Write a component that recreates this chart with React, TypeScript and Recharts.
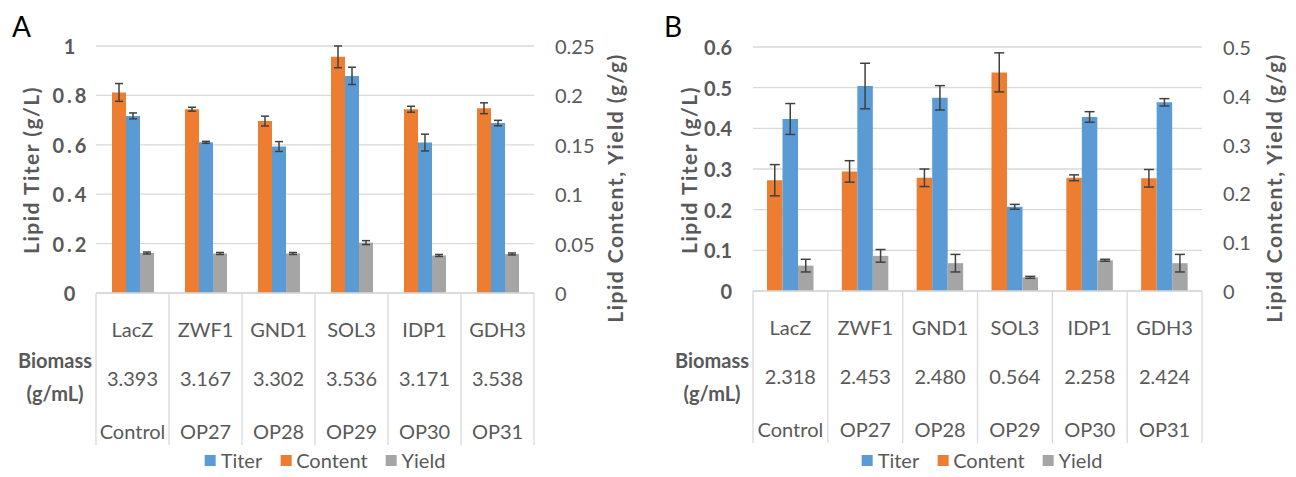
import React from 'react';
import { BarChart, Bar, XAxis, YAxis, CartesianGrid, ErrorBar, Legend } from 'recharts';

const GENES = ['LacZ', 'ZWF1', 'GND1', 'SOL3', 'IDP1', 'GDH3'];
const STRAINS = ['Control', 'OP27', 'OP28', 'OP29', 'OP30', 'OP31'];

// panel A
const BIOMASS_A = ['3.393', '3.167', '3.302', '3.536', '3.171', '3.538'];
const TITER_A = [0.717, 0.61, 0.593, 0.879, 0.609, 0.688];
const TITER_ERR_A = [0.012, 0.004, 0.02, 0.035, 0.034, 0.011];
const CONTENT_A = [0.203, 0.186, 0.174, 0.239, 0.186, 0.187];
const CONTENT_ERR_A = [0.009, 0.002, 0.005, 0.011, 0.003, 0.0055];
const YIELD_A = [0.0405, 0.04, 0.04, 0.051, 0.038, 0.0395];
const YIELD_ERR_A = [0.001, 0.001, 0.001, 0.002, 0.001, 0.001];
const LEFT_TICKS_A = [0, 0.2, 0.4, 0.6, 0.8, 1];
const RIGHT_TICKS_A = [0, 0.05, 0.1, 0.15, 0.2, 0.25];

// panel B
const BIOMASS_B = ['2.318', '2.453', '2.480', '0.564', '2.258', '2.424'];
const TITER_B = [0.423, 0.504, 0.475, 0.207, 0.428, 0.464];
const TITER_ERR_B = [0.038, 0.056, 0.03, 0.006, 0.013, 0.009];
const CONTENT_B = [0.227, 0.245, 0.232, 0.448, 0.232, 0.231];
const CONTENT_ERR_B = [0.032, 0.022, 0.018, 0.04, 0.006, 0.018];
const YIELD_B = [0.052, 0.072, 0.057, 0.028, 0.063, 0.057];
const YIELD_ERR_B = [0.013, 0.013, 0.018, 0.002, 0.002, 0.018];
const LEFT_TICKS_B = [0, 0.1, 0.2, 0.3, 0.4, 0.5, 0.6];
const RIGHT_TICKS_B = [0, 0.1, 0.2, 0.3, 0.4, 0.5];

const LEGEND_ORDER = ['Titer', 'Content', 'Yield'];

const BLUE = '#5b9bd5';
const ORANGE = '#ed7d31';
const GRAY = '#a5a5a5';
const TEXT = '#595959';
const GRID = '#d9d9d9';
const ERR = '#404040';
const FONT = 'Lato, sans-serif';
const H = 477;

const buildRows = (
  titer: number[], titerErr: number[],
  content: number[], contentErr: number[],
  yld: number[], yldErr: number[],
) => GENES.map((gene, i) => ({
  gene,
  titer: titer[i], titerErr: titerErr[i],
  content: content[i], contentErr: contentErr[i],
  yield: yld[i], yieldErr: yldErr[i],
}));

interface PanelProps {
  letter: string;
  left: number;
  width: number;
  top: number;
  plotLeft: number;
  plotRight: number;
  plotBottom: number;
  rows: any[];
  biomass: string[];
  leftTicks: number[];
  rightTicks: number[];
  barSize: number;
  cap: number;
  leftTickDx: number;
  leftTickAnchor: 'middle' | 'end';
  leftTickSpacing: number;
  leftTitleX: number;
  rightTitleX: number;
  biomassX: number;
  legendCx: number;
}

const Panel: React.FC<PanelProps> = (p) => {
  const band = (p.plotRight - p.plotLeft) / GENES.length;
  const txt = { fontFamily: FONT, fontSize: 20, fill: TEXT };

  const tableTick = (props: any) => {
    const { x, y, payload } = props;
    const i = payload.index;
    return (
      <g>
        <line x1={x - band / 2} x2={x - band / 2} y1={y} y2={y + 152} stroke={GRID} strokeWidth={1.3} />
        {i === GENES.length - 1 && (
          <line x1={x + band / 2} x2={x + band / 2} y1={y} y2={y + 152} stroke={GRID} strokeWidth={1.3} />
        )}
        <text x={x} y={y + 36} textAnchor="middle" dominantBaseline="central" {...txt}>{GENES[i]}</text>
        <text x={x} y={y + 85} textAnchor="middle" dominantBaseline="central" {...txt}>{p.biomass[i]}</text>
        <text x={x} y={y + 138} textAnchor="middle" dominantBaseline="central" {...txt}>{STRAINS[i]}</text>
      </g>
    );
  };

  const leftTick = (props: any) => (
    <text x={props.x - p.leftTickDx} y={props.y} textAnchor={p.leftTickAnchor} dominantBaseline="central"
      fontWeight="bold" letterSpacing={p.leftTickSpacing} {...txt}>
      {String(props.payload.value)}
    </text>
  );

  const rightTick = (props: any) => (
    <text x={props.x + 21} y={props.y} textAnchor="start" dominantBaseline="central" {...txt}>
      {String(props.payload.value)}
    </text>
  );

  const renderLegend = (props: any) => {
    const items = [...(props.payload || [])].sort(
      (a: any, b: any) => LEGEND_ORDER.indexOf(a.value) - LEGEND_ORDER.indexOf(b.value),
    );
    return (
      <div style={{ position: 'absolute', left: p.legendCx, top: 0, transform: 'translateX(-50%)', display: 'flex', whiteSpace: 'nowrap', fontFamily: FONT, fontSize: 20, color: TEXT, lineHeight: '26px' }}>
        {items.map((it: any, k: number) => (
          <div key={it.value} style={{ display: 'flex', alignItems: 'center', marginLeft: k === 0 ? 0 : 18 }}>
            <span style={{ width: 11, height: 11, background: it.color, display: 'inline-block', marginRight: 5 }} />
            <span>{it.value}</span>
          </div>
        ))}
      </div>
    );
  };

  const titleProps = { fontFamily: FONT, fontSize: 21, fontWeight: 'bold' as const, fill: TEXT, letterSpacing: 1.5, textAnchor: 'middle' as const, dominantBaseline: 'central' as const };

  return (
    <div style={{ position: 'absolute', left: p.left, top: 0, width: p.width, height: H }}>
      <BarChart width={p.width} height={H} data={p.rows} margin={{ top: p.top, right: 0, bottom: 0, left: 0 }}
        barGap={0} barSize={p.barSize}>
        <CartesianGrid yAxisId="left" vertical={false} stroke={GRID} strokeWidth={1.3} />
        <XAxis dataKey="gene" height={H - p.plotBottom} interval={0} tickLine={false} tickSize={0} tickMargin={0}
          axisLine={{ stroke: GRID, strokeWidth: 1.3 }} tick={tableTick} />
        <YAxis yAxisId="left" orientation="left" width={p.plotLeft} domain={[0, p.leftTicks[p.leftTicks.length - 1]]}
          ticks={p.leftTicks} allowDataOverflow axisLine={false} tickLine={false} tickSize={0} tickMargin={0} tick={leftTick} />
        <YAxis yAxisId="right" orientation="right" width={p.width - p.plotRight} domain={[0, p.rightTicks[p.rightTicks.length - 1]]}
          ticks={p.rightTicks} allowDataOverflow axisLine={false} tickLine={false} tickSize={0} tickMargin={0} tick={rightTick} />
        <Bar dataKey="content" name="Content" yAxisId="right" fill={ORANGE} isAnimationActive={false}>
          <ErrorBar dataKey="contentErr" width={p.cap} stroke={ERR} strokeWidth={1.5} />
        </Bar>
        <Bar dataKey="titer" name="Titer" yAxisId="left" fill={BLUE} isAnimationActive={false}>
          <ErrorBar dataKey="titerErr" width={p.cap} stroke={ERR} strokeWidth={1.5} />
        </Bar>
        <Bar dataKey="yield" name="Yield" yAxisId="right" fill={GRAY} isAnimationActive={false}>
          <ErrorBar dataKey="yieldErr" width={p.cap} stroke={ERR} strokeWidth={1.5} />
        </Bar>
        <Legend layout="horizontal" verticalAlign="middle" align="center" content={renderLegend}
          wrapperStyle={{ top: 447, left: 0, width: p.width, height: 26 }} />
      </BarChart>
      <svg width={p.width} height={H} style={{ position: 'absolute', left: 0, top: 0, pointerEvents: 'none' }}>
        <text x={p.letter === 'A' ? 12 : 24} y={26} fontFamily={FONT} fontSize={28} fill="#000" dominantBaseline="central">{p.letter}</text>
        <text transform={`translate(${p.leftTitleX},170) rotate(-90)`} {...titleProps}>Lipid Titer (g/L)</text>
        <text transform={`translate(${p.rightTitleX},188) rotate(-90)`} {...titleProps}>Lipid Content, Yield (g/g)</text>
        <text x={p.biomassX} y={360} textAnchor="middle" dominantBaseline="central" fontWeight="bold" {...txt}>Biomass</text>
        <text x={p.biomassX} y={393} textAnchor="middle" dominantBaseline="central" fontWeight="bold" {...txt}>(g/mL)</text>
      </svg>
    </div>
  );
};

export default function App() {
  const rowsA = buildRows(TITER_A, TITER_ERR_A, CONTENT_A, CONTENT_ERR_A, YIELD_A, YIELD_ERR_A);
  const rowsB = buildRows(TITER_B, TITER_ERR_B, CONTENT_B, CONTENT_ERR_B, YIELD_B, YIELD_ERR_B);
  return (
    <div style={{ position: 'absolute', left: 0, top: 0, width: 1296, height: H, background: '#fff' }}>
      <Panel letter="A" left={0} width={640} top={46} plotLeft={96} plotRight={534} plotBottom={293}
        rows={rowsA} biomass={BIOMASS_A} leftTicks={LEFT_TICKS_A} rightTicks={RIGHT_TICKS_A}
        barSize={14} cap={4} leftTickDx={25} leftTickAnchor="middle" leftTickSpacing={3}
        leftTitleX={30} rightTitleX={614} biomassX={55} legendCx={325} />
      <Panel letter="B" left={640} width={656} top={47} plotLeft={113} plotRight={562} plotBottom={291}
        rows={rowsB} biomass={BIOMASS_B} leftTicks={LEFT_TICKS_B} rightTicks={RIGHT_TICKS_B}
        barSize={15.5} cap={5} leftTickDx={21} leftTickAnchor="end" leftTickSpacing={0}
        leftTitleX={48} rightTitleX={633} biomassX={72} legendCx={342} />
    </div>
  );
}
